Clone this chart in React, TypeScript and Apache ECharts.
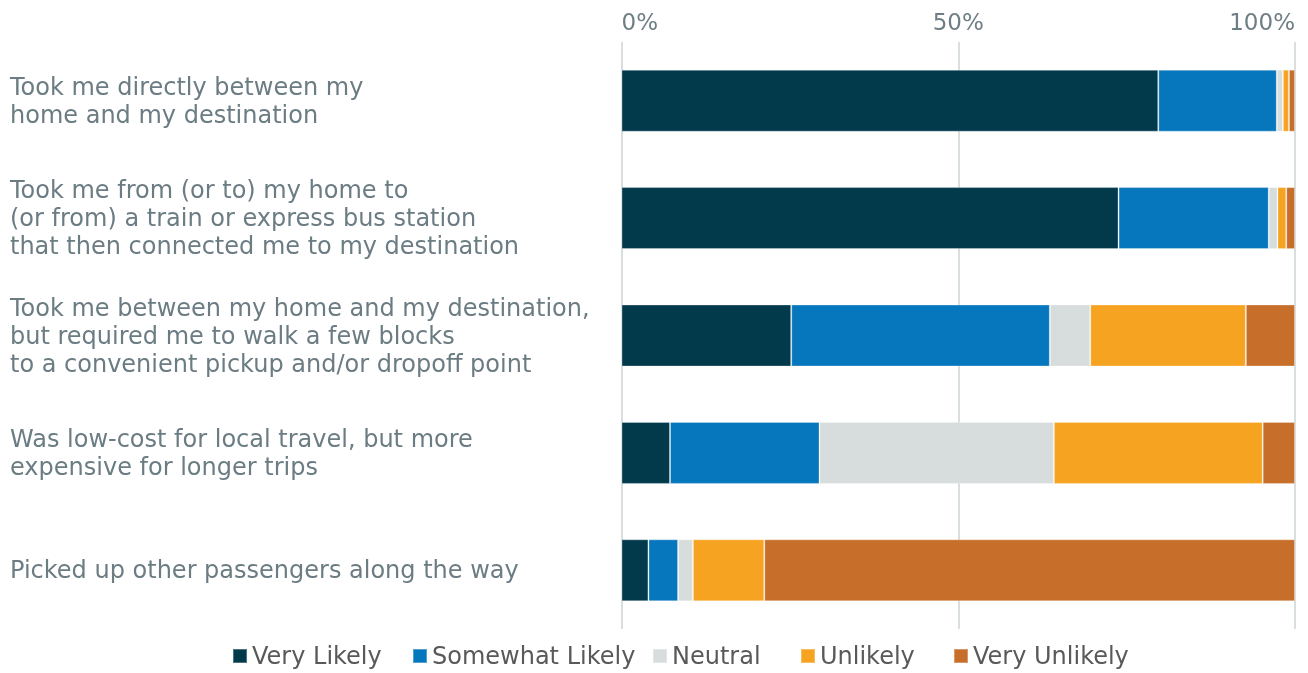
import React, { useEffect, useRef } from "react";
import * as echarts from "echarts";

const categories = [
  "Took me directly between my\nhome and my destination",
  "Took me from (or to) my home to\n(or from) a train or express bus station\nthat then connected me to my destination",
  "Took me between my home and my destination,\nbut required me to walk a few blocks\nto a convenient pickup and/or dropoff point",
  "Was low-cost for local travel, but more\nexpensive for longer trips",
  "Picked up other passengers along the way",
];

const seriesNames = ["Very Likely", "Somewhat Likely", "Neutral", "Unlikely", "Very Unlikely"];
const veryLikely = [79.7, 73.8, 25.2, 7.2, 4.0];
const somewhatLikely = [17.6, 22.3, 38.4, 22.2, 4.4];
const neutral = [0.9, 1.3, 6.0, 34.8, 2.2];
const unlikely = [0.9, 1.3, 23.1, 31.0, 10.6];
const veryUnlikely = [0.9, 1.3, 7.3, 4.8, 78.8];
const xTicks = [0, 50, 100];

const colors = ["#023a4c", "#0777bd", "#d7dcdd", "#f5a320", "#c66e2a"];
const legendLefts = [232, 412, 652, 800, 953];

export default function App() {
  const ref = useRef<HTMLDivElement>(null);
  useEffect(() => {
    if (!ref.current) return;
    const chart = echarts.init(ref.current, undefined, { renderer: "svg" });
    const values = [veryLikely, somewhatLikely, neutral, unlikely, veryUnlikely];
    const font = "DejaVu Sans";
    chart.setOption({
      animation: false,
      textStyle: { fontFamily: font },
      grid: { left: 621.5, right: 13, top: 42, bottom: 44, containLabel: false },
      legend: seriesNames.map((n, i) => ({
        data: [n],
        left: legendLefts[i],
        top: 644,
        padding: 0,
        icon: "rect",
        itemWidth: 14,
        itemHeight: 14,
        textStyle: { fontSize: 24, color: "#595959", fontFamily: font },
        selectedMode: false,
      })),
      xAxis: {
        type: "value",
        position: "top",
        min: xTicks[0],
        max: xTicks[xTicks.length - 1],
        interval: 50,
        axisLine: { show: false },
        axisTick: { show: false },
        axisLabel: {
          formatter: "{value}%",
          fontSize: 23,
          color: "#6f7e84",
          margin: 9,
          alignMinLabel: "left",
          alignMaxLabel: "right",
          fontFamily: font,
        },
        splitLine: { show: true, lineStyle: { color: "#d9dedf", width: 2 } },
      },
      yAxis: {
        type: "category",
        inverse: true,
        data: categories,
        axisLine: { show: false },
        axisTick: { show: false },
        axisLabel: {
          align: "left",
          margin: 611.5,
          fontSize: 24,
          lineHeight: 28,
          color: "#6b7c83",
          fontFamily: font,
        },
      },
      series: seriesNames.map((n, i) => ({
        name: n,
        type: "bar",
        stack: "total",
        barWidth: 62,
        data: values[i],
        itemStyle: {
          color: colors[i],
          borderColor: "rgba(255,255,255,0.3)",
          borderWidth: 1,
        },
      })),
    });
    return () => chart.dispose();
  }, []);
  return (
    <div
      ref={ref}
      style={{ position: "fixed", left: 0, top: 0, width: 1308, height: 673 }}
    />
  );
}
